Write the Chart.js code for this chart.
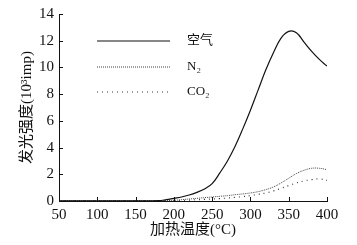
<!DOCTYPE html>
<html>
<head>
<meta charset="utf-8">
<script src="https://cdn.jsdelivr.net/npm/chart.js@4.4.0/dist/chart.umd.min.js"></script>
<style>
  html, body { margin: 0; padding: 0; background: #fff; }
  #wrap { width: 357px; height: 245px; }
</style>
</head>
<body>
<div id="wrap"><canvas id="lumChart"></canvas></div>
<script>
// temperatures (°C)
const temps = [50, 100, 150, 180, 190, 200, 210, 220, 230, 240, 250, 260, 270, 280, 290, 300, 310, 320, 330, 340, 350, 360, 370, 380, 390, 400];
// luminescence intensity (10^3 imp)
const air = [0.02, 0.02, 0.02, 0.03, 0.1, 0.2, 0.3, 0.45, 0.65, 0.9, 1.3, 2.1, 3.0, 4.1, 5.4, 6.8, 8.3, 9.8, 11.1, 12.2, 12.7, 12.6, 11.9, 11.2, 10.6, 10.1];
const n2 = [0.02, 0.02, 0.02, 0.02, 0.03, 0.05, 0.1, 0.15, 0.2, 0.25, 0.3, 0.35, 0.4, 0.47, 0.53, 0.6, 0.7, 0.85, 1.05, 1.35, 1.7, 2.05, 2.3, 2.45, 2.45, 2.35];
const co2 = [0.01, 0.01, 0.01, 0.01, 0.01, 0.02, 0.04, 0.07, 0.1, 0.12, 0.15, 0.18, 0.22, 0.27, 0.33, 0.4, 0.5, 0.6, 0.75, 0.95, 1.15, 1.35, 1.5, 1.6, 1.65, 1.55];
const xTicks = [50, 100, 150, 200, 250, 300, 350, 400];
const yTicks = [0, 2, 4, 6, 8, 10, 12, 14];

const seriesNames = ['空气', 'N₂', 'CO₂'];
const ink = '#111';
const serif = '"Liberation Serif", "Noto Sans CJK SC", serif';

function pts(ys) {
    return temps.map((t, i) => ({ x: t, y: ys[i] }));
}

// legend drawn inside the plot, lines on the left and names on the right
const innerLegend = {
    id: 'innerLegend',
    afterDraw(chart) {
        const ctx = chart.ctx;
        const rows = [41, 67, 92];
        ctx.save();
        chart.data.datasets.forEach((ds, i) => {
            ctx.strokeStyle = ds.borderColor;
            ctx.lineWidth = ds.borderWidth;
            ctx.setLineDash(ds.borderDash || []);
            ctx.beginPath();
            ctx.moveTo(97, rows[i]);
            ctx.lineTo(170, rows[i]);
            ctx.stroke();
            ctx.setLineDash([]);
            ctx.fillStyle = ink;
            ctx.font = '13px ' + serif;
            ctx.textBaseline = 'middle';
            ctx.fillText(ds.label, 187, rows[i]);
        });
        ctx.restore();
    }
};

// short inward tick marks on both axes
const inwardTicks = {
    id: 'inwardTicks',
    afterDraw(chart) {
        const ctx = chart.ctx;
        const a = chart.chartArea;
        const xs = chart.scales.x, ys = chart.scales.y;
        ctx.save();
        ctx.strokeStyle = ink;
        ctx.lineWidth = 1;
        ctx.beginPath();
        xTicks.forEach(v => {
            const p = Math.round(xs.getPixelForValue(v)) + 0.5;
            ctx.moveTo(p, a.bottom);
            ctx.lineTo(p, a.bottom - 4);
        });
        yTicks.forEach(v => {
            const p = Math.round(ys.getPixelForValue(v)) + 0.5;
            ctx.moveTo(a.left, p);
            ctx.lineTo(a.left + 4, p);
        });
        ctx.stroke();
        ctx.restore();
    }
};

const ctx = document.getElementById('lumChart').getContext('2d');
new Chart(ctx, {
    type: 'line',
    data: {
        datasets: [{
            label: seriesNames[0],
            data: pts(air),
            borderColor: '#111',
            borderWidth: 1.2,
            pointRadius: 0,
            tension: 0.4,
            fill: false
        }, {
            label: seriesNames[1],
            data: pts(n2),
            borderColor: '#444',
            borderWidth: 1,
            borderDash: [1, 1],
            pointRadius: 0,
            tension: 0.4,
            fill: false
        }, {
            label: seriesNames[2],
            data: pts(co2),
            borderColor: '#333',
            borderWidth: 1.2,
            borderDash: [1, 4],
            pointRadius: 0,
            tension: 0.4,
            fill: false
        }]
    },
    options: {
        responsive: true,
        maintainAspectRatio: false,
        animation: false,
        layout: {
            padding: { top: 12, right: 30, left: 18, bottom: 0 }
        },
        plugins: {
            legend: { display: false },
            tooltip: { enabled: false }
        },
        scales: {
            x: {
                type: 'linear',
                min: 50,
                max: 400,
                afterBuildTicks: s => { s.ticks = xTicks.map(v => ({ value: v })); },
                grid: { display: false, drawTicks: false },
                border: { color: ink, width: 1 },
                ticks: {
                    color: ink,
                    padding: 5,
                    maxRotation: 0,
                    font: { family: serif, size: 15 }
                },
                title: {
                    display: true,
                    text: '加热温度(°C)',
                    color: ink,
                    padding: { top: 0, bottom: 6 },
                    font: { family: serif, size: 15 }
                },
                afterFit: s => { s.height = 44; }
            },
            y: {
                min: 0,
                max: 14,
                afterBuildTicks: s => { s.ticks = yTicks.map(v => ({ value: v })); },
                grid: { display: false, drawTicks: false },
                border: { color: ink, width: 1 },
                ticks: {
                    color: ink,
                    padding: 5,
                    font: { family: serif, size: 15 }
                },
                title: {
                    display: true,
                    text: '发光强度(10³imp)',
                    color: ink,
                    padding: { top: 0, bottom: 2 },
                    font: { family: serif, size: 15 }
                },
                afterFit: s => { s.width = 41; }
            }
        }
    },
    plugins: [innerLegend, inwardTicks]
});
</script>
</body>
</html>
